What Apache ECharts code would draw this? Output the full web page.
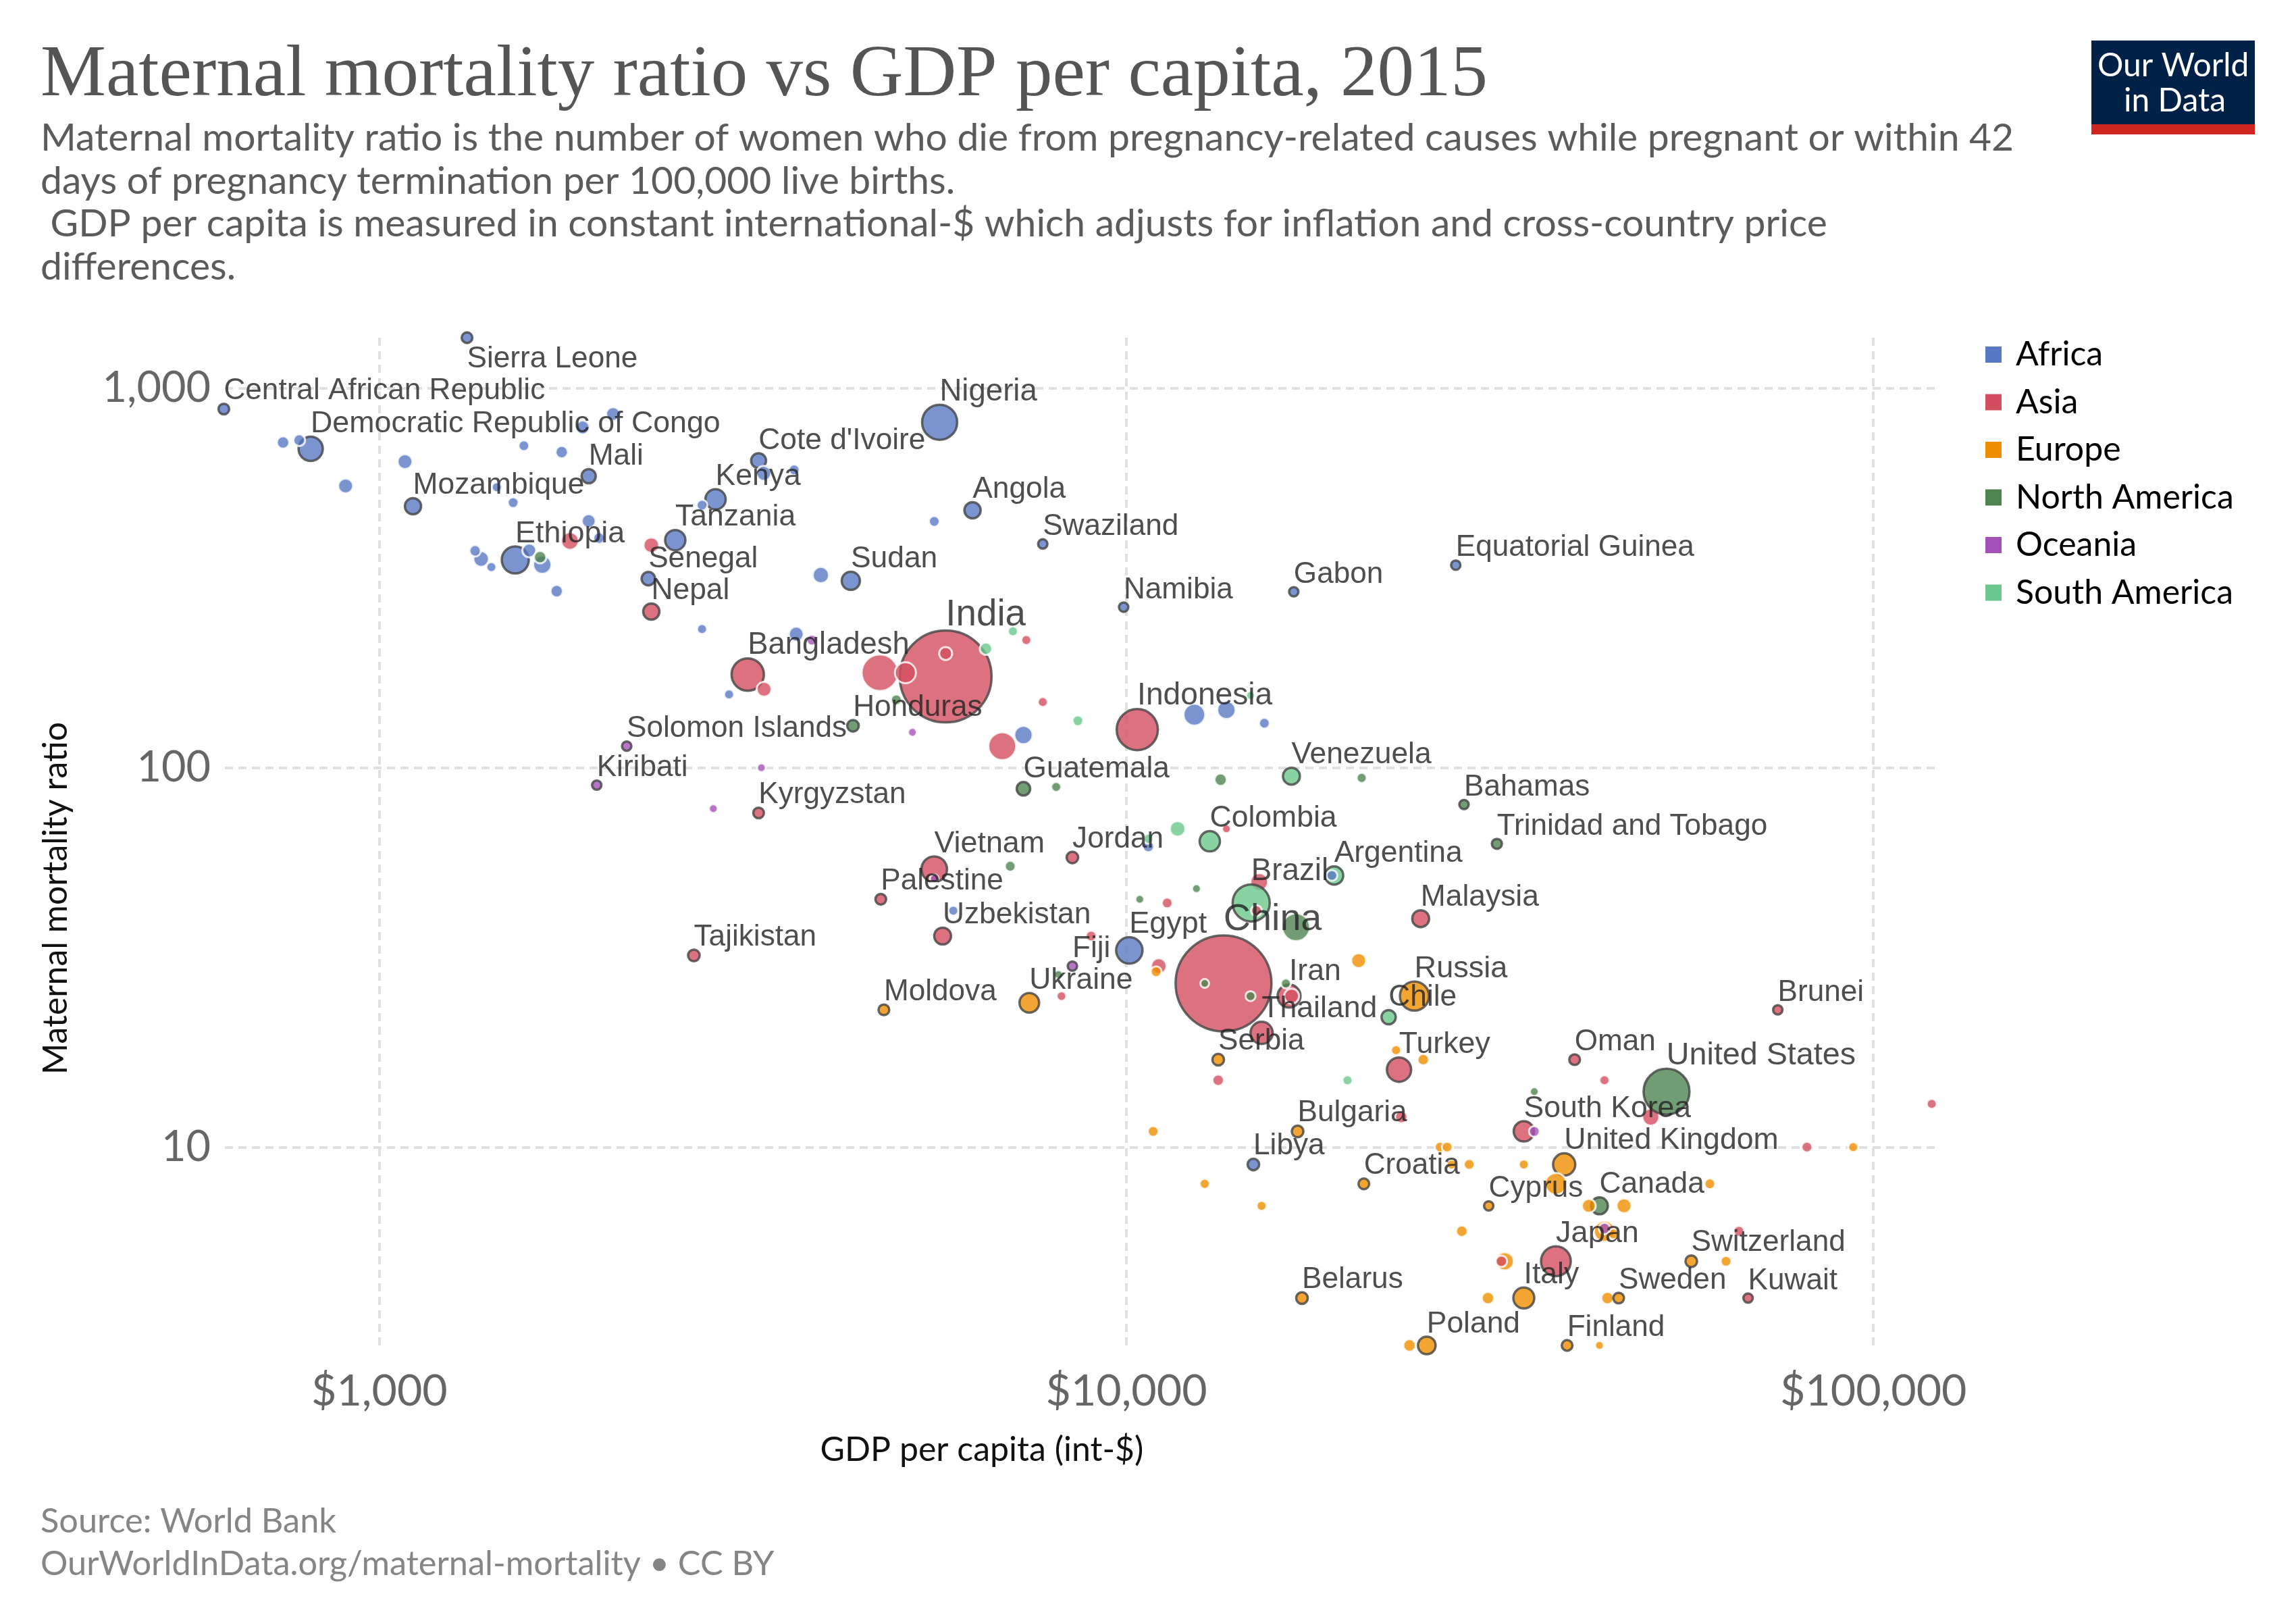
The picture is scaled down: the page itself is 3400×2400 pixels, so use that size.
<!DOCTYPE html>
<html>
<head>
<meta charset="utf-8">
<title>Maternal mortality ratio vs GDP per capita, 2015</title>
<script src="https://cdn.jsdelivr.net/npm/echarts@6/dist/echarts.min.js"></script>
<style>
html, body { margin: 0; padding: 0; background: #fff; }
#main { width: 3400px; height: 2400px; }
</style>
</head>
<body>
<div id="main"></div>
<script>
// rows: gdp per capita, maternal mortality ratio, population (millions), name if labelled
var africa = [
  [1310, 1360, 17, 'Sierra Leone'], [619, 882, 17, 'Central African Republic'], [809, 693, 87, 'Democratic Republic of Congo'],
  [1906, 587, 30, 'Mali'], [1109, 489, 39, 'Mozambique'], [1520, 353, 108, 'Ethiopia'], [2818, 510, 61, 'Kenya'],
  [2489, 398, 61, 'Tanzania'], [2291, 315, 27, 'Senegal'], [3218, 645, 33, "Cote d'Ivoire"], [5623, 814, 182, 'Nigeria'],
  [6223, 477, 39, 'Angola'], [7727, 389, 13, 'Swaziland'], [4276, 311, 49, 'Sudan'], [16750, 291, 13, 'Gabon'],
  [9915, 265, 13, 'Namibia'], [27600, 342, 13, 'Equatorial Guinea'], [10090, 33, 103, 'Egypt'], [14790, 9, 20, 'Libya'],
  [743, 720, 18], [781, 730, 16], [901, 553, 27], [1082, 641, 27], [2055, 856, 23], [1871, 789, 23], [1561, 706, 13],
  [1754, 679, 18], [1436, 549, 11], [1510, 500, 13], [1906, 447, 23], [1968, 403, 15], [1343, 373, 15], [1368, 355, 30],
  [1412, 338, 11], [1587, 374, 23], [1652, 343, 42], [1727, 292, 18], [2703, 492, 13], [2703, 232, 11], [2938, 156, 11],
  [3270, 597, 27], [3591, 610, 13], [5530, 446, 13], [3899, 322, 33], [3614, 225, 27], [12330, 138, 61], [13610, 142, 42],
  [15300, 131, 13], [7280, 122, 42], [5865, 42, 11], [10700, 62, 15], [18840, 52, 13]
];
var asia = [
  [2312, 258, 39, 'Nepal'], [5728, 174, 1248, 'India'], [3112, 176, 155, 'Bangladesh'], [10340, 126, 251, 'Indonesia'],
  [3218, 76, 17, 'Kyrgyzstan'], [5530, 54, 97, 'Vietnam'], [8466, 58, 20, 'Jordan'], [4690, 45, 17, 'Palestine'],
  [5675, 36, 42, 'Uzbekistan'], [2636, 32, 20, 'Tajikistan'], [13490, 27, 1360, 'China'], [15170, 20, 73, 'Thailand'],
  [24770, 40, 42, 'Malaysia'], [16510, 25, 78, 'Iran'], [23170, 16, 87, 'Turkey'], [39810, 17, 17, 'Oman'],
  [74470, 23, 13, 'Brunei'], [34040, 11, 61, 'South Korea'], [37580, 5, 131, 'Japan'], [67950, 4, 13, 'Kuwait'],
  [1799, 396, 39], [2312, 386, 30], [5728, 200, 20], [7345, 217, 11], [3273, 161, 27], [4677, 178, 182], [5060, 178, 57],
  [7727, 149, 11], [6820, 114, 103], [13610, 69, 8], [11340, 44, 13], [15060, 50, 39], [14930, 42, 13], [8970, 36, 13],
  [11050, 30, 30], [8186, 25, 10], [13270, 15, 15], [16640, 25, 27], [43650, 15, 11], [119700, 13, 11], [50350, 12, 36],
  [23330, 12, 18], [81470, 10, 13], [66070, 6, 13], [31770, 5, 15]
];
var europe = [
  [7413, 24, 57, 'Ukraine'], [4735, 23, 17, 'Moldova'], [13270, 17, 20, 'Serbia'], [24300, 25, 125, 'Russia'],
  [16950, 11, 20, 'Bulgaria'], [20790, 8, 17, 'Croatia'], [38550, 9, 73, 'United Kingdom'], [30550, 7, 13, 'Cyprus'],
  [57040, 5, 20, 'Switzerland'], [34040, 4, 65, 'Italy'], [45600, 4, 17, 'Sweden'], [17180, 4, 20, 'Belarus'],
  [25240, 3, 46, 'Poland'], [38900, 3, 17, 'Finland'],
  [10960, 29, 13], [10860, 11, 13], [12730, 8, 11], [15170, 7, 11], [20460, 31, 27], [22960, 18, 11], [24970, 17, 15],
  [26300, 10, 13], [26880, 10, 13], [93970, 10, 11], [28770, 9, 13], [34040, 9, 11], [27250, 9, 11], [37580, 8, 61],
  [60400, 8, 13], [41590, 7, 23], [46360, 7, 27], [28120, 6, 15], [43650, 6, 57], [44900, 5.9, 13], [32090, 5, 42],
  [63500, 5, 13], [30480, 4, 18], [44060, 4, 18], [23930, 3, 18], [42980, 3, 8]
];
var northAmerica = [
  [4305, 129, 20, 'Honduras'], [7280, 88, 27, 'Guatemala'], [28310, 80, 13, 'Bahamas'], [31330, 63, 15, 'Trinidad and Tobago'],
  [52850, 14, 312, 'United States'], [42980, 7, 42, 'Canada'],
  [1641, 359, 18], [4920, 151, 13], [13370, 93, 18], [20650, 94, 11], [8054, 89, 11], [6990, 55, 13], [10420, 45, 8],
  [12410, 48, 8], [8110, 28.5, 8], [12730, 27, 8], [14660, 25, 11], [16350, 27, 11], [35160, 14, 8], [16870, 38, 103]
];
var oceania = [
  [2143, 114, 13, 'Solomon Islands'], [1954, 90, 13, 'Kiribati'], [8466, 30, 13, 'Fiji'],
  [3793, 217, 13], [5170, 124, 8], [3246, 100, 8], [2799, 78, 8], [5530, 51, 8], [35160, 11, 13], [43650, 6.1, 15]
];
var southAmerica = [
  [16630, 95, 42, 'Venezuela'], [12930, 64, 61, 'Colombia'], [14690, 44, 204, 'Brazil'], [18970, 52, 49, 'Argentina'],
  [22440, 22, 30, 'Chile'],
  [6486, 206, 18], [7047, 229, 11], [14660, 155, 8], [8610, 133, 13], [11710, 69, 30], [10700, 65, 11], [19770, 15, 11]
];

var continents = ['Africa', 'Asia', 'Europe', 'North America', 'Oceania', 'South America'];
var continentRows = [africa, asia, europe, northAmerica, oceania, southAmerica];
var continentColors = ['#5a79c4', '#d34f5f', '#ef8e00', '#4f8350', '#a552b8', '#6bc78b'];
var labelBelow = ['Sierra Leone'];

function diameter(pop) {
  return 3.85 * Math.sqrt(pop);
}
function labelSize(pop) {
  return 44 + 12 * pop / 1397;
}
function byPopDesc(a, b) {
  return b[2] - a[2];
}

var series = [];

// two passes so small bubbles of any continent sit above the big ones
[function (r) { return r[2] >= 30; }, function (r) { return r[2] < 30; }].forEach(function (pass) {
  continents.forEach(function (name, i) {
    series.push({
      name: name,
      type: 'scatter',
      clip: false,
      itemStyle: { color: continentColors[i], opacity: 0.8 },
      data: continentRows[i].filter(pass).sort(byPopDesc).map(function (r) {
        return {
          value: r.slice(0, 3),
          // the white ring eats into the fill, so ringed bubbles get a bit of size back
          symbolSize: r[3] ? diameter(r[2]) : diameter(r[2]) + 2,
          itemStyle: r[3] ? { borderColor: '#444', borderWidth: 3.5 } : { borderColor: '#fff', borderWidth: 3 }
        };
      })
    });
  });
});

// country names on top of every bubble
var labelled = [];
continentRows.forEach(function (rows) {
  rows.forEach(function (r) {
    if (r[3]) labelled.push(r);
  });
});
series.push({
  name: 'labels',
  type: 'scatter',
  clip: false,
  silent: true,
  symbolSize: 0,
  z: 10,
  data: labelled.map(function (r) {
    var size = labelSize(r[2]);
    var gap = diameter(r[2]) / 2 + size * 0.42;
    return {
      value: r.slice(0, 3),
      label: {
        show: true,
        formatter: r[3],
        position: [0, labelBelow.indexOf(r[3]) >= 0 ? 32 : -gap],
        align: 'left',
        verticalAlign: 'middle',
        color: '#222',
        fontFamily: 'Liberation Sans',
        fontSize: size
      }
    };
  })
});

var gridLine = { show: true, showMinLine: false, showMaxLine: false, lineStyle: { color: '#e0e0e0', width: 4, type: [12, 8] } };

var chart = echarts.init(document.getElementById('main'), null, { renderer: 'canvas' });
chart.setOption({
  animation: false,
  backgroundColor: '#fff',
  textStyle: { fontFamily: 'Lato' },
  title: [
    { text: 'Maternal mortality ratio vs GDP per capita, 2015', left: 60, top: 58, padding: 0,
      textStyle: { fontFamily: 'Liberation Serif', fontSize: 109, fontWeight: 'normal', color: '#555' } },
    { text: 'Maternal mortality ratio is the number of women who die from pregnancy-related causes while pregnant or within 42\ndays of pregnancy termination per 100,000 live births.\n GDP per capita is measured in constant international-$ which adjusts for inflation and cross-country price\ndifferences.',
      left: 60, top: 173, padding: 0,
      textStyle: { fontFamily: 'Lato', fontSize: 57, lineHeight: 63.6, fontWeight: 'normal', color: '#5b5b5b' } },
    { text: 'Source: World Bank\nOurWorldInData.org/maternal-mortality • CC BY', left: 60, top: 2221, padding: 0,
      textStyle: { fontFamily: 'Lato', fontSize: 50.5, lineHeight: 63, fontWeight: 'normal', color: '#858585' } }
  ],
  legend: {
    data: continents,
    orient: 'vertical',
    left: 2940,
    top: 500,
    padding: 0,
    icon: 'rect',
    itemWidth: 24,
    itemHeight: 24,
    itemGap: 20.5,
    itemStyle: { opacity: 1, borderWidth: 0 },
    selectedMode: false,
    textStyle: { fontFamily: 'Lato', fontSize: 50, color: '#000', padding: [0, 0, 0, 16] }
  },
  grid: { left: 333, right: 535, top: 500, bottom: 408 },
  xAxis: {
    type: 'log',
    logBase: 10,
    min: 621,
    max: 120800,
    name: 'GDP per capita (int-$)',
    nameLocation: 'middle',
    nameGap: 130,
    nameTextStyle: { fontFamily: 'Lato', fontSize: 50, color: '#111', padding: [0, 290, 0, 0] },
    axisLine: { show: false },
    axisTick: { show: false },
    axisLabel: {
      margin: 36, fontFamily: 'Lato', fontSize: 64.5, color: '#666',
      showMinLabel: false, showMaxLabel: false,
      formatter: function (v) { return '$' + Math.round(v).toLocaleString('en-US'); }
    },
    splitLine: gridLine
  },
  yAxis: {
    type: 'log',
    logBase: 10,
    min: 3,
    max: 1360,
    name: 'Maternal mortality ratio',
    nameLocation: 'middle',
    nameGap: 225,
    nameTextStyle: { fontFamily: 'Lato', fontSize: 50, color: '#111', padding: [0, 168, 0, 0] },
    axisLine: { show: false },
    axisTick: { show: false },
    axisLabel: {
      margin: 21, fontFamily: 'Lato', fontSize: 63, color: '#666',
      showMinLabel: false, showMaxLabel: false,
      formatter: function (v) { return Math.round(v).toLocaleString('en-US'); }
    },
    splitLine: gridLine
  },
  graphic: [
    { type: 'rect', left: 3097, top: 60, shape: { width: 242, height: 124 }, style: { fill: '#002147' } },
    { type: 'rect', left: 3097, top: 184, shape: { width: 242, height: 15 }, style: { fill: '#ce261e' } },
    { type: 'text', left: 3106, top: 74, style: { text: 'Our World', fill: '#fff', font: '48px Lato' } },
    { type: 'text', left: 3145, top: 126, style: { text: 'in Data', fill: '#fff', font: '48px Lato' } }
  ],
  series: series
});
</script>
</body>
</html>
